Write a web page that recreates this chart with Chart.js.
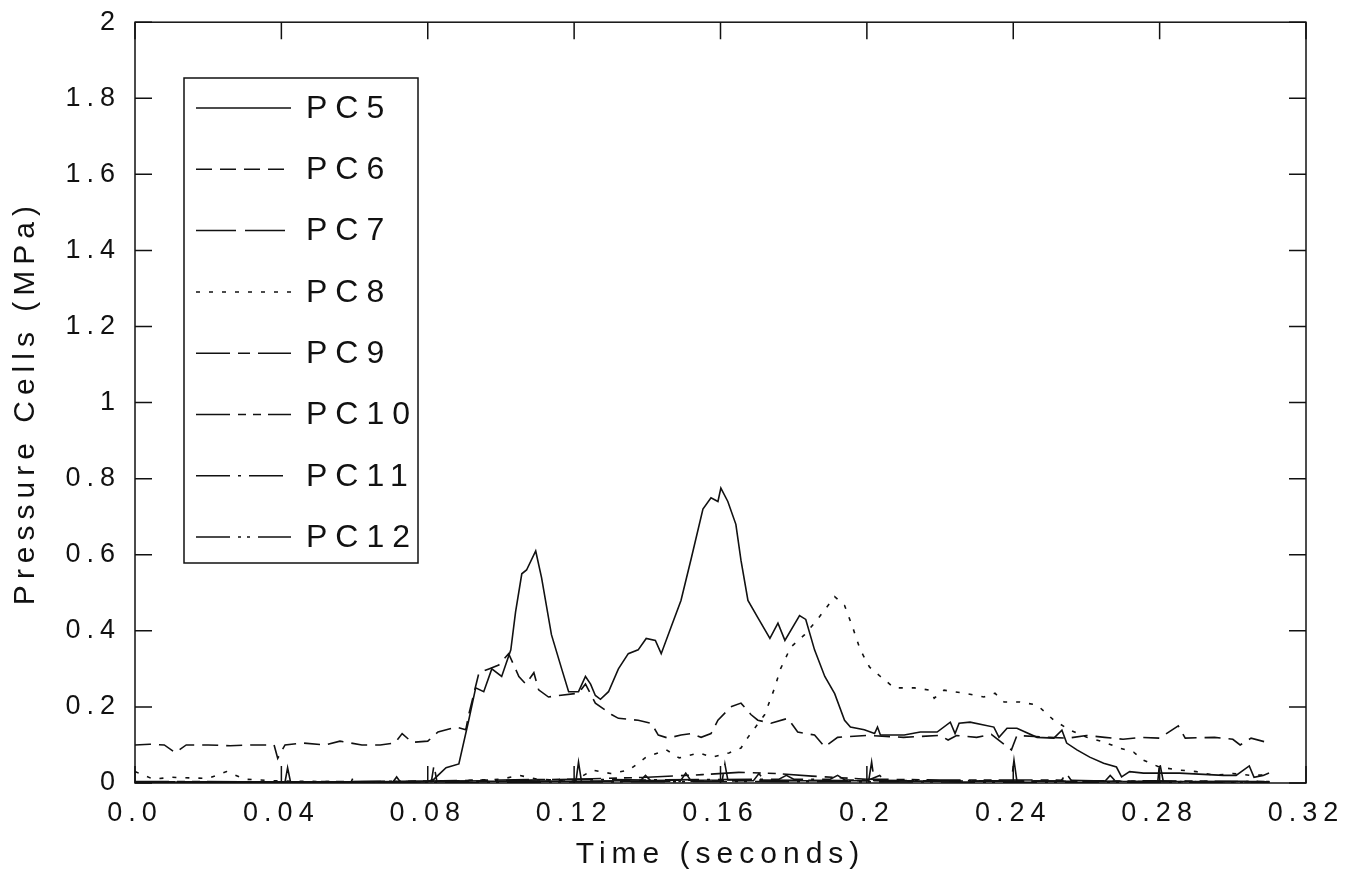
<!DOCTYPE html>
<html>
<head>
<meta charset="utf-8">
<script src="https://cdn.jsdelivr.net/npm/chart.js@4.4.1/dist/chart.umd.min.js"></script>
<style>
  html, body { margin: 0; padding: 0; background: #fff; }
</style>
</head>
<body>
<canvas id="chart" width="1366" height="873"></canvas>
<script>
// tick values / labels
const xTicks = [0, 0.04, 0.08, 0.12, 0.16, 0.2, 0.24, 0.28, 0.32];
const xTickLabels = ['0.0', '0.04', '0.08', '0.12', '0.16', '0.2', '0.24', '0.28', '0.32'];
const yTicks = [0, 0.2, 0.4, 0.6, 0.8, 1, 1.2, 1.4, 1.6, 1.8, 2];
const yTickLabels = ['0', '0.2', '0.4', '0.6', '0.8', '1', '1.2', '1.4', '1.6', '1.8', '2'];

// PC5 (solid)
const t5 = [0, 0.02, 0.04, 0.06, 0.08, 0.0817, 0.085, 0.0885, 0.0912, 0.0931,
  0.0953, 0.0975, 0.1002, 0.1027, 0.104, 0.1057, 0.107, 0.1095, 0.1111, 0.1138,
  0.1166, 0.1185, 0.1212, 0.1231, 0.1245, 0.1258, 0.1272, 0.1294, 0.1321, 0.1348,
  0.1375, 0.1397, 0.1422, 0.1438, 0.1465, 0.1492, 0.152, 0.1552, 0.1574, 0.1593,
  0.1601, 0.162, 0.1642, 0.1656, 0.1675, 0.1702, 0.1735, 0.1757, 0.1776, 0.1816,
  0.1833, 0.1857, 0.1885, 0.1912, 0.1939, 0.1955, 0.1993, 0.2021, 0.2029, 0.2037,
  0.2075, 0.2102, 0.2146, 0.2192, 0.2228, 0.2241, 0.2252, 0.2282, 0.2347, 0.2361,
  0.2383, 0.241, 0.2465, 0.2511, 0.2533, 0.2546, 0.2574, 0.2609, 0.2647, 0.2682,
  0.2696, 0.2718, 0.2756, 0.2791, 0.2854, 0.2974, 0.3009, 0.3045, 0.3058, 0.3083,
  0.3099];
const pc5 = [0.003, 0.002, 0.003, 0.002, 0.004, 0.01, 0.04, 0.05, 0.165, 0.25,
  0.24, 0.30, 0.28, 0.35, 0.45, 0.55, 0.56, 0.61, 0.54, 0.39,
  0.30, 0.24, 0.24, 0.28, 0.26, 0.23, 0.22, 0.24, 0.30, 0.34,
  0.35, 0.38, 0.375, 0.34, 0.41, 0.48, 0.59, 0.72, 0.75, 0.74,
  0.775, 0.74, 0.68, 0.585, 0.48, 0.435, 0.38, 0.42, 0.375, 0.44,
  0.43, 0.35, 0.28, 0.235, 0.165, 0.147, 0.14, 0.13, 0.147, 0.126,
  0.126, 0.126, 0.134, 0.134, 0.16, 0.13, 0.157, 0.16, 0.147, 0.12,
  0.144, 0.144, 0.12, 0.118, 0.139, 0.105, 0.087, 0.068, 0.052, 0.042,
  0.016, 0.03, 0.026, 0.026, 0.026, 0.02, 0.02, 0.045, 0.015, 0.02,
  0.026];

// PC6 (short dash)
const t6 = [0, 0.004, 0.008, 0.011, 0.014, 0.02, 0.026, 0.032, 0.038, 0.039,
  0.041, 0.046, 0.052, 0.056, 0.062, 0.067, 0.071, 0.073, 0.0757, 0.08,
  0.0828, 0.0877, 0.0904, 0.0912, 0.094, 0.0967, 0.0994, 0.1021, 0.1049, 0.1068,
  0.109, 0.1103, 0.113, 0.1157, 0.1212, 0.1231, 0.1258, 0.1302, 0.1321, 0.1375,
  0.1411, 0.143, 0.1457, 0.1492, 0.152, 0.1547, 0.1574, 0.1593, 0.1628, 0.1656,
  0.1683, 0.1702, 0.1738, 0.1784, 0.1811, 0.1857, 0.1885, 0.192, 0.2, 0.21,
  0.22, 0.2222, 0.2245, 0.23, 0.234, 0.2395, 0.241, 0.25, 0.255, 0.26,
  0.265, 0.27, 0.275, 0.28, 0.2851, 0.287, 0.295, 0.3, 0.302, 0.305,
  0.31];
const pc6 = [0.1, 0.102, 0.1, 0.08, 0.1, 0.1, 0.098, 0.1, 0.1, 0.065,
  0.1, 0.105, 0.1, 0.11, 0.1, 0.1, 0.105, 0.13, 0.107, 0.11,
  0.134, 0.147, 0.14, 0.18, 0.29, 0.30, 0.31, 0.34, 0.28, 0.26,
  0.29, 0.245, 0.226, 0.23, 0.236, 0.26, 0.21, 0.18, 0.17, 0.165,
  0.157, 0.126, 0.118, 0.126, 0.13, 0.12, 0.13, 0.165, 0.2, 0.21,
  0.18, 0.165, 0.157, 0.17, 0.134, 0.126, 0.095, 0.12, 0.125, 0.12,
  0.125, 0.113, 0.125, 0.12, 0.128, 0.087, 0.125, 0.12, 0.118, 0.125,
  0.12, 0.115, 0.12, 0.118, 0.15, 0.118, 0.12, 0.115, 0.1, 0.118,
  0.105];

// PC7 (long dash) - near zero with periodic spikes
const t7 = [0, 0.041, 0.0417, 0.0425, 0.081, 0.0817, 0.0825, 0.1205, 0.1212, 0.122,
  0.1605, 0.1612, 0.162, 0.2005, 0.2013, 0.202, 0.2395, 0.2402, 0.241, 0.2795,
  0.28, 0.281, 0.31];
const pc7 = [0.003, 0.003, 0.04, 0.003, 0.004, 0.047, 0.004, 0.005, 0.055, 0.005,
  0.008, 0.05, 0.008, 0.006, 0.055, 0.006, 0.005, 0.06, 0.005, 0.004,
  0.055, 0.004, 0.003];

// PC8 (dotted)
const t8 = [0, 0.005, 0.01, 0.02, 0.025, 0.03, 0.04, 0.06, 0.08, 0.1,
  0.105, 0.11, 0.12, 0.125, 0.13, 0.135, 0.1397, 0.1452, 0.1487, 0.1542,
  0.1577, 0.1623, 0.1656, 0.1675, 0.1721, 0.1748, 0.1764, 0.1792, 0.183, 0.1865,
  0.1912, 0.1939, 0.1961, 0.1982, 0.2007, 0.2037, 0.2075, 0.213, 0.2173, 0.2184,
  0.2211, 0.2266, 0.232, 0.235, 0.2375, 0.2418, 0.2465, 0.2511, 0.2555, 0.2601,
  0.2647, 0.269, 0.2729, 0.2756, 0.2799, 0.2854, 0.29, 0.295, 0.3, 0.305,
  0.31];
const pc8 = [0.03, 0.01, 0.015, 0.012, 0.03, 0.01, 0.005, 0.003, 0.003, 0.01,
  0.02, 0.01, 0.005, 0.034, 0.025, 0.034, 0.068, 0.087, 0.066, 0.079,
  0.068, 0.079, 0.092, 0.12, 0.18, 0.25, 0.30, 0.357, 0.39, 0.43,
  0.49, 0.467, 0.41, 0.35, 0.305, 0.28, 0.25, 0.25, 0.244, 0.223,
  0.244, 0.236, 0.226, 0.236, 0.213, 0.213, 0.205, 0.165, 0.139, 0.12,
  0.108, 0.092, 0.081, 0.06, 0.042, 0.034, 0.03, 0.02, 0.025, 0.02,
  0.022];

// PC9 .. PC12 stay close to zero
const t9 = [0, 0.059, 0.0595, 0.06, 0.0705, 0.0715, 0.0725, 0.138, 0.1395, 0.141,
  0.149, 0.1505, 0.152, 0.169, 0.1705, 0.172, 0.2, 0.2035, 0.205, 0.253,
  0.2545, 0.256, 0.265, 0.2665, 0.268, 0.31];
const pc9 = [0.002, 0.002, 0.012, 0.002, 0.003, 0.016, 0.003, 0.005, 0.02, 0.005,
  0.005, 0.026, 0.005, 0.006, 0.025, 0.006, 0.006, 0.02, 0.005, 0.005,
  0.025, 0.005, 0.004, 0.02, 0.004, 0.004];

const t10 = [0, 0.04, 0.08, 0.1, 0.12, 0.14, 0.155, 0.165, 0.175, 0.185,
  0.2, 0.22, 0.25, 0.262, 0.27, 0.278, 0.29, 0.31];
const pc10 = [0.004, 0.003, 0.005, 0.008, 0.01, 0.015, 0.022, 0.028, 0.025, 0.018,
  0.01, 0.008, 0.008, 0.006, 0.005, 0.006, 0.005, 0.004];

const t11 = [0, 0.05, 0.1, 0.12, 0.14, 0.176, 0.178, 0.18, 0.19, 0.192, 0.194, 0.22, 0.26, 0.31];
const pc11 = [0.002, 0.003, 0.006, 0.01, 0.008, 0.01, 0.02, 0.01, 0.01, 0.02, 0.008, 0.006, 0.004, 0.003];

const t12 = [0, 0.1, 0.16, 0.2, 0.25, 0.31];
const pc12 = [0.001, 0.002, 0.004, 0.003, 0.002, 0.002];

const seriesNames = ['PC5', 'PC6', 'PC7', 'PC8', 'PC9', 'PC10', 'PC11', 'PC12'];

const INK = '#111';
const FONT = '"Liberation Sans", Arial, sans-serif';
const TICK_LEN = 17;

const dashes = [
  [],
  [16, 8],
  [40, 9],
  [4, 9],
  [34, 8, 12, 8],
  [34, 8, 8, 7, 8, 7],
  [34, 8, 3, 8],
  [34, 8, 3, 6, 3, 8],
];

const series = [[t5, pc5], [t6, pc6], [t7, pc7], [t8, pc8], [t9, pc9], [t10, pc10], [t11, pc11], [t12, pc12]];

const datasets = series.map(([t, v], i) => ({
  label: seriesNames[i],
  data: t.map((x, k) => ({ x: x, y: v[k] })),
  borderColor: INK,
  borderWidth: 1.6,
  borderDash: dashes[i],
  pointRadius: 0,
  tension: 0,
  fill: false,
}));

// frame, inward ticks and the boxed legend
const framePlugin = {
  id: 'frame',
  beforeUpdate(chart) { chart.ctx.letterSpacing = '6px'; },
  beforeDraw(chart) { chart.ctx.letterSpacing = '6px'; },
  afterDraw(chart) {
    const { ctx, chartArea: a, scales: { x, y } } = chart;
    ctx.save();
    ctx.strokeStyle = INK;
    ctx.lineWidth = 1.5;
    ctx.setLineDash([]);
    ctx.strokeRect(a.left, a.top, a.right - a.left, a.bottom - a.top);
    ctx.beginPath();
    yTicks.forEach(v => {
      const py = y.getPixelForValue(v);
      ctx.moveTo(a.left, py); ctx.lineTo(a.left + TICK_LEN, py);
      ctx.moveTo(a.right, py); ctx.lineTo(a.right - TICK_LEN, py);
    });
    xTicks.forEach(v => {
      const px = x.getPixelForValue(v);
      ctx.moveTo(px, a.top); ctx.lineTo(px, a.top + TICK_LEN);
      ctx.moveTo(px, a.bottom); ctx.lineTo(px, a.bottom - TICK_LEN);
    });
    ctx.stroke();

    // legend box
    const lx = 184, ly = 78, lw = 234, lh = 485;
    ctx.fillStyle = '#fff';
    ctx.fillRect(lx, ly, lw, lh);
    ctx.strokeRect(lx, ly, lw, lh);
    ctx.font = '32px ' + FONT;
    ctx.letterSpacing = '8px';
    ctx.textBaseline = 'middle';
    ctx.textAlign = 'left';
    ctx.fillStyle = INK;
    seriesNames.forEach((name, i) => {
      const cy = ly + 30 + i * 61.3;
      ctx.beginPath();
      ctx.setLineDash(dashes[i]);
      ctx.moveTo(lx + 12, cy);
      ctx.lineTo(lx + 107, cy);
      ctx.stroke();
      ctx.fillText(name, lx + 122, cy + 1);
    });
    ctx.restore();
  }
};

new Chart(document.getElementById('chart'), {
  type: 'line',
  data: { datasets: datasets },
  plugins: [framePlugin],
  options: {
    responsive: false,
    animation: false,
    devicePixelRatio: 1,
    layout: { padding: { top: 18, right: 60, left: 0, bottom: 0 } },
    plugins: { legend: { display: false }, tooltip: { enabled: false } },
    scales: {
      x: {
        type: 'linear',
        min: 0,
        max: 0.32,
        afterBuildTicks: s => { s.ticks = xTicks.map(v => ({ value: v })); },
        afterFit: s => { s.height = 90; },
        grid: { display: false },
        border: { display: false },
        ticks: {
          autoSkip: false,
          maxRotation: 0,
          padding: 6,
          color: INK,
          font: { family: FONT, size: 27 },
          callback: (v, i) => xTickLabels[i],
        },
        title: {
          display: true,
          text: 'Time (seconds)',
          color: INK,
          font: { family: FONT, size: 30 },
          padding: { top: 0, bottom: 0 },
        },
      },
      y: {
        type: 'linear',
        min: 0,
        max: 2,
        afterBuildTicks: s => { s.ticks = yTicks.map(v => ({ value: v })); },
        afterFit: s => { s.width = 135; },
        grid: { display: false },
        border: { display: false },
        ticks: {
          padding: 6,
          color: INK,
          font: { family: FONT, size: 27 },
          callback: (v, i) => yTickLabels[i],
        },
        title: {
          display: true,
          text: 'Pressure Cells (MPa)',
          color: INK,
          font: { family: FONT, size: 30 },
          padding: { top: 8, bottom: 0 },
        },
      },
    },
  },
});
</script>
</body>
</html>
